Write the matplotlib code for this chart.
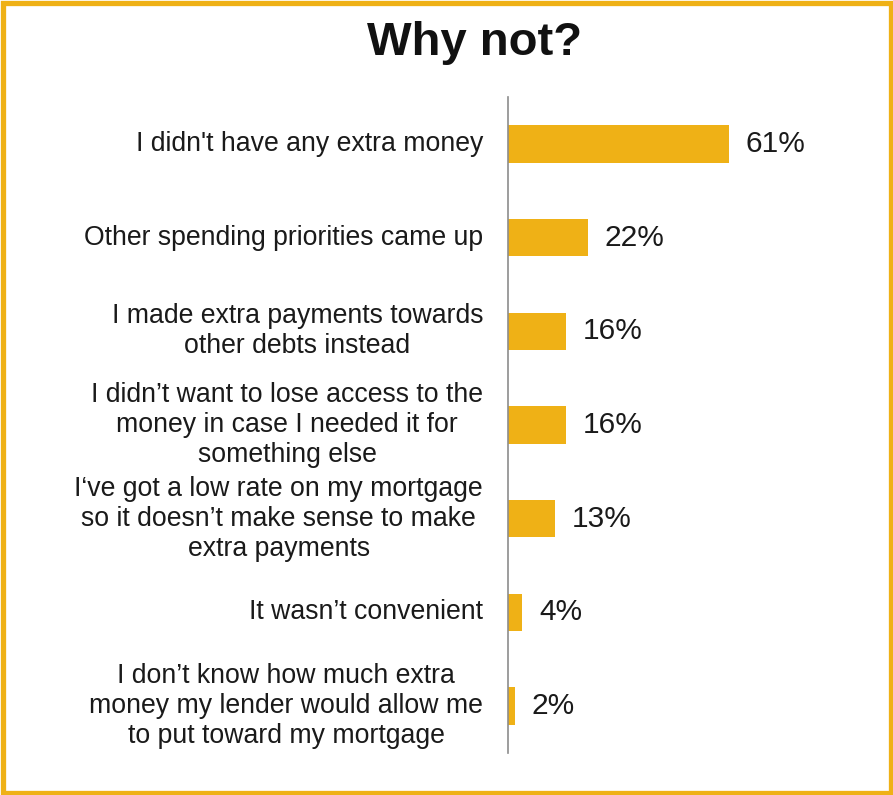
import matplotlib.pyplot as plt
from matplotlib.patches import Rectangle

plt.rcParams['font.family'] = ['Liberation Sans', 'DejaVu Sans']

reasons = [
    "I didn't have any extra money",
    "Other spending priorities came up",
    "I made extra payments towards\nother debts instead",
    "I didn\u2019t want to lose access to the\nmoney in case I needed it for\nsomething else",
    "I\u2018ve got a low rate on my mortgage\nso it doesn\u2019t make sense to make\nextra payments",
    "It wasn\u2019t convenient",
    "I don\u2019t know how much extra\nmoney my lender would allow me\nto put toward my mortgage",
]
pct = [61, 22, 16, 16, 13, 4, 2]

gold = "#EFB116"
W, H = 893, 795

fig = plt.figure(figsize=(W / 100, H / 100), dpi=100)
ax = fig.add_axes([508 / W, 42 / H, (870 - 508) / W, (753 - 97) / H])

y = list(range(len(reasons)))
ax.barh(y, pct, height=0.4, color=gold)
ax.set_ylim(len(reasons) - 0.5, -0.5)
ax.set_xlim(0, 100)

for yi, p in zip(y, pct):
    ax.annotate(f"{p}%", (p, yi), xytext=(12, 0), textcoords="offset points",
                ha="left", va="center", fontsize=21.5, color="#1a1a1a")
    ax.annotate(reasons[yi], (0, yi), xytext=(-18, 0), textcoords="offset points",
                ha="right", va="center", multialignment="center",
                fontsize=19.2, color="#1a1a1a", linespacing=1.2)

for s in ["top", "right", "bottom"]:
    ax.spines[s].set_visible(False)
ax.spines["left"].set_color("#8C8C8C")
ax.spines["left"].set_linewidth(1.2)
ax.set_xticks([])
ax.set_yticks([])

fig.text(475 / W, 1 - 43 / H, "Why not?", ha="center", va="center",
         fontsize=34, fontweight="bold", color="#111111")

# yellow frame round the whole figure
fig.patches.append(Rectangle((2.5 / W, 2.5 / H), 1 - 5 / W, 1 - 5 / H,
                             transform=fig.transFigure, fill=False,
                             edgecolor=gold, linewidth=3.8))

fig.savefig("out.png", dpi=100)
